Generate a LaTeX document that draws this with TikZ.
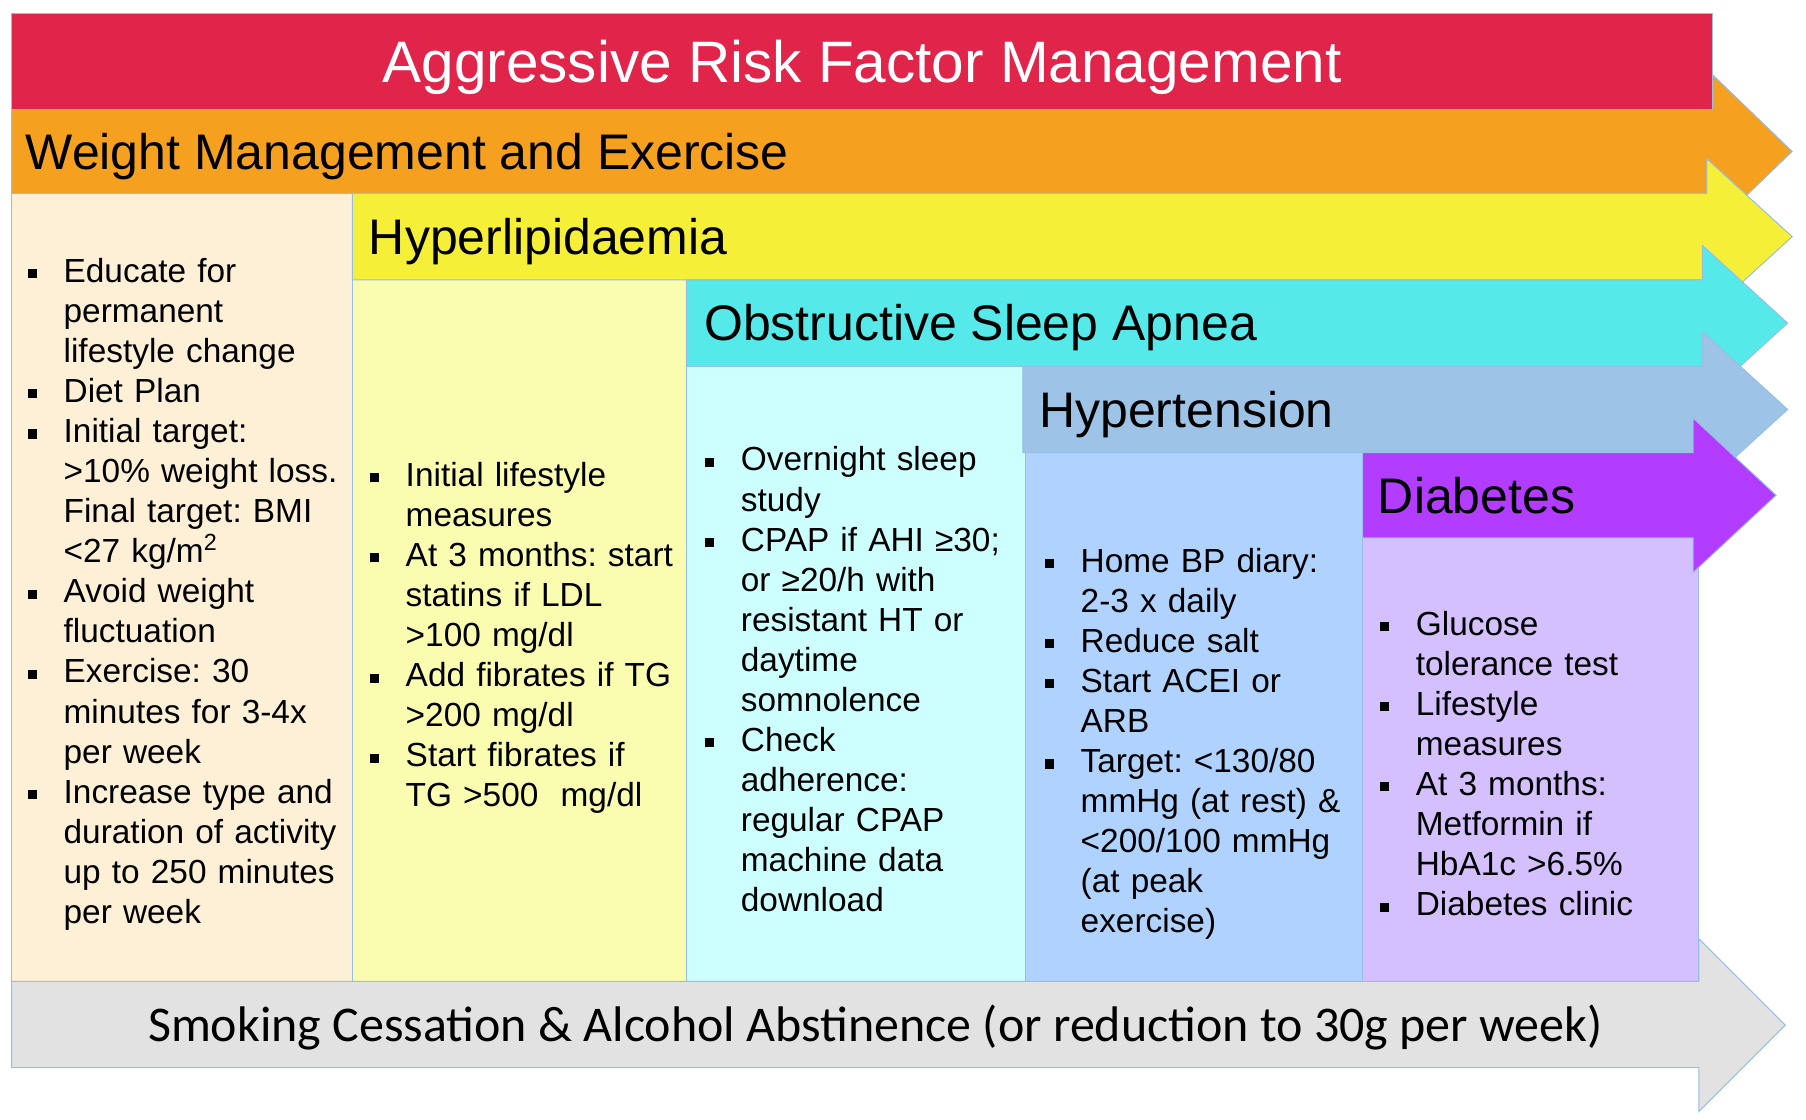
\documentclass[tikz,border=0pt]{standalone}
\usepackage{fontspec}
\setmainfont{Liberation Sans}
\newfontfamily\calibri{Carlito}
\usepackage{tikz}

\definecolor{redband}{HTML}{E0244A}
\definecolor{orangeband}{HTML}{F5A01E}
\definecolor{yellowband}{HTML}{F5F037}
\definecolor{cyanband}{HTML}{55E9E9}
\definecolor{htband}{HTML}{9DC3E6}
\definecolor{purpleband}{HTML}{B23CFF}
\definecolor{greyband}{HTML}{E2E2E2}
\definecolor{weightbox}{HTML}{FEF0D6}
\definecolor{lipidbox}{HTML}{FAFCAF}
\definecolor{osabox}{HTML}{CDFFFF}
\definecolor{htbox}{HTML}{B0D2FF}
\definecolor{diabbox}{HTML}{D5C0FF}
\definecolor{edgeblue}{HTML}{96BEE6}

\frenchspacing

% bullet item with hanging indent
\newcommand{\bitem}[1]{\par\noindent\hangindent=17.6pt\hangafter=1%
  \makebox[17.6pt][l]{\raisebox{2pt}{\rule{4.5pt}{4.5pt}}}#1\par}

\begin{document}
\begin{tikzpicture}[x=0.02cm,y=-0.02cm,
    band/.style={draw=edgeblue,line width=0.5pt},
    head/.style={font=\fontsize{24.7}{29}\selectfont,anchor=base west,inner sep=0pt},
    bullets/.style={font=\fontsize{16.5}{19.8}\selectfont,anchor=west,inner sep=0pt,
        text width=6cm}]

        \useasboundingbox (0,0) rectangle (1568,972);

        % Content columns
        \filldraw[band,fill=weightbox] (10,168) rectangle (306,852);
        \filldraw[band,fill=lipidbox] (306,243) rectangle (596,852);
        \filldraw[band,fill=osabox] (596,318) rectangle (890,852);
        \filldraw[band,fill=htbox] (890,393) rectangle (1183,852);
        \filldraw[band,fill=diabbox] (1183,467) rectangle (1475,852);

        % Arrow bands
        \foreach \bx/\tp/\bt/\ex/\tx/\col in {10/95/168/1487/1556/orangeband,
            306/168/243/1482/1556/yellowband,
            596/243/318/1478/1552/cyanband,
            888/318/393/1478/1552/htband,
            1183/393/467/1470/1542/purpleband} {
            \filldraw[band,fill=\col] (\bx,\tp) -- (\ex,\tp) -- (\ex,\tp-30)
                -- ({\tx},{(\tp+\bt)/2}) -- (\ex,\bt+30) -- (\ex,\bt) -- (\bx,\bt) -- cycle;
        }

        % Top band
        \filldraw[band,fill=redband] (10,12) rectangle (1487,95);

        % Bottom band
        \filldraw[band,fill=greyband] (10,852) -- (1475,852) -- (1475,815) -- (1550,890)
            -- (1475,965) -- (1475,927) -- (10,927) -- cycle;

        % Band titles
        \node[inner sep=0pt,anchor=base,text=white,font=\fontsize{28.9}{34}\selectfont]
            (title) at (748.5,71.7) {Aggressive Risk Factor Management};
        \node[head] (weight) at (22,147) {Weight Management and Exercise};
        \node[head] (lipid) at (320,221) {Hyperlipidaemia};
        \node[head] (osa) at (611,296) {Obstructive Sleep Apnea};
        \node[head] (ht) at (902,371) {Hypertension};
        \node[head] (diab) at (1196,446) {Diabetes};
        \node[inner sep=0pt,anchor=base,font=\calibri\fontsize{24.7}{29}\selectfont]
            (smoke) at (760,904) {Smoking Cessation \& Alcohol Abstinence (or reduction to 30g per week)};

        % Bullet lists
        \node[bullets] (weightlist) at (24,509) {%
            \bitem{Educate for\newline permanent\newline lifestyle change}
            \bitem{Diet Plan}
            \bitem{Initial target:\newline >10\% weight loss.\newline Final target: BMI\newline <27 kg/m\textsuperscript{2}}
            \bitem{Avoid weight\newline fluctuation}
            \bitem{Exercise: 30\newline minutes for 3-4x\newline per week}
            \bitem{Increase type and\newline duration of activity\newline up to 250 minutes\newline per week}};

        \node[bullets] (lipidlist) at (321,547) {%
            \bitem{Initial lifestyle\newline measures}
            \bitem{At 3 months: start\newline statins if LDL\newline >100 mg/dl}
            \bitem{Add fibrates if TG\newline >200 mg/dl}
            \bitem{Start fibrates if\newline TG >500~ mg/dl}};

        \node[bullets] (osalist) at (612,583) {%
            \bitem{Overnight sleep\newline study}
            \bitem{CPAP if AHI ≥30;\newline or ≥20/h with\newline resistant HT or\newline daytime\newline somnolence}
            \bitem{Check\newline adherence:\newline regular CPAP\newline machine data\newline download}};

        \node[bullets] (htlist) at (907,639) {%
            \bitem{Home BP diary:\newline 2-3 x daily}
            \bitem{Reduce salt}
            \bitem{Start ACEI or\newline ARB}
            \bitem{Target: <130/80\newline mmHg (at rest) \&\newline <200/100 mmHg\newline (at peak\newline exercise)}};

        \node[bullets] (diablist) at (1198,656) {%
            \bitem{Glucose\newline tolerance test}
            \bitem{Lifestyle\newline measures}
            \bitem{At 3 months:\newline Metformin if\newline HbA1c >6.5\%}
            \bitem{Diabetes clinic}};

    \end{tikzpicture}
\end{document}
